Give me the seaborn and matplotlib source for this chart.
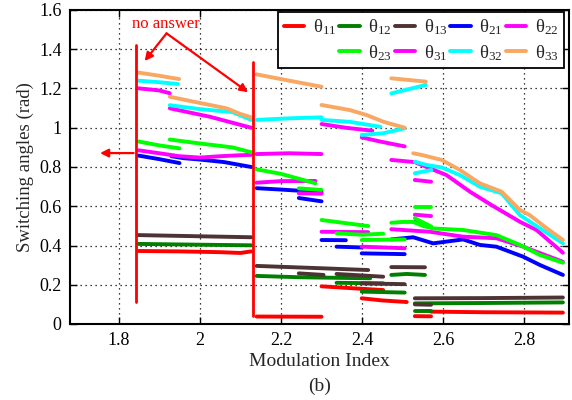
import numpy as np
import pandas as pd
import matplotlib
matplotlib.use("Agg")
import matplotlib.pyplot as plt
import seaborn as sns
from matplotlib.lines import Line2D

# ---------------- data (None separates branches) ----------------
th11_x = [1.849, 1.95, 2.05, 2.10, 2.127, None, 2.14, 2.30, None, 2.30, 2.37, 2.452, None,
          2.399, 2.45, 2.51, None, 2.53, 2.57, None, 2.57, 2.70, 2.80, 2.895]
th11_y = [0.372, 0.370, 0.366, 0.362, 0.370, None, 0.038, 0.037, None, 0.192, 0.183, 0.173, None,
          0.131, 0.120, 0.112, None, 0.040, 0.039, None, 0.063, 0.060, 0.059, 0.058]

th12_x = [1.849, 2.0, 2.127, None, 2.14, 2.25, 2.42, None, 2.337, 2.452, None, 2.399, 2.505, None,
          2.472, 2.51, 2.555, None, 2.53, 2.57, None, 2.53, 2.70, 2.895]
th12_y = [0.408, 0.404, 0.401, None, 0.245, 0.238, 0.233, None, 0.210, 0.207, None, 0.165, 0.160, None,
          0.250, 0.255, 0.250, None, 0.065, 0.065, None, 0.105, 0.107, 0.110]

th13_x = [1.849, 2.0, 2.127, None, 2.14, 2.22, 2.30, 2.415, None, 2.244, 2.305, None, 2.337, 2.452, None,
          2.399, 2.505, None, 2.472, 2.555, None, 2.53, 2.57, None, 2.53, 2.70, 2.895]
th13_y = [0.453, 0.447, 0.442, None, 0.296, 0.290, 0.284, 0.275, None, 0.258, 0.250, None, 0.255, 0.241, None,
          0.207, 0.203, None, 0.290, 0.289, None, 0.100, 0.098, None, 0.131, 0.132, 0.135]

th21_x = [1.849, 1.90, 1.95, None, 1.93, 1.96, 2.0, 2.06, 2.127, None, 2.14, 2.20, 2.30, None,
          2.244, 2.30, None, 2.30, 2.36, None, 2.337, 2.399, None, 2.399, 2.505, None,
          2.472, 2.526, 2.575, 2.649, 2.69, 2.731, 2.797, 2.838, 2.895, None, 2.53, 2.555]
th21_y = [0.858, 0.840, 0.820, None, 0.855, 0.845, 0.838, 0.825, 0.800, None, 0.692, 0.685, 0.672, None,
          0.642, 0.625, None, 0.428, 0.427, None, 0.394, 0.390, None, 0.360, 0.356, None,
          0.431, 0.442, 0.411, 0.431, 0.403, 0.394, 0.343, 0.301, 0.250, None, 0.520, 0.505]

th22_x = [1.849, 1.90, 1.95, 2.00, 2.05, 2.10, 2.127, None, 2.14, 2.20, 2.285, None, 2.244, 2.30, None,
          2.30, 2.415, None, 2.399, 2.505, None, 2.472, 2.567, 2.649, 2.731, 2.797, 2.895, None, 2.53, 2.57]
th22_y = [0.885, 0.870, 0.855, 0.848, 0.855, 0.860, 0.862, None, 0.720, 0.728, 0.729, None, 0.666, 0.664, None,
          0.470, 0.468, None, 0.394, 0.386, None, 0.483, 0.470, 0.445, 0.437, 0.394, 0.317, None, 0.557, 0.550]

th23_x = [1.849, 1.90, 1.95, None, 1.926, 2.0, 2.08, 2.127, None, 2.14, 2.20, 2.285, None, 2.244, 2.30, None,
          2.30, 2.415, None, 2.337, 2.40, 2.452, None, 2.399, 2.505, None,
          2.472, 2.50, 2.526, 2.55, 2.575, 2.649, 2.731, 2.789, 2.838, 2.895, None,
          2.53, 2.571, None, 2.53, 2.571]
th23_y = [0.930, 0.910, 0.895, None, 0.940, 0.920, 0.900, 0.875, None, 0.788, 0.765, 0.717, None, 0.691, 0.683, None,
          0.530, 0.499, None, 0.462, 0.455, 0.460, None, 0.428, 0.431, None,
          0.516, 0.520, 0.520, 0.500, 0.487, 0.479, 0.453, 0.403, 0.352, 0.312, None,
          0.595, 0.595, None, 0.539, 0.496]

th31_x = [1.849, 1.90, 1.926, None, 1.926, 2.025, 2.127, None, 2.14, 2.22, 2.30, None, 2.30, 2.36, 2.425, None,
          2.399, 2.444, 2.505, None, 2.472, 2.53, 2.559, 2.608, 2.666, 2.719, 2.789, 2.83, 2.895, None, 2.53, 2.57]
th31_y = [1.201, 1.190, 1.176, None, 1.099, 1.056, 1.000, None, 0.866, 0.870, 0.866, None, 1.019, 1.000, 0.985, None,
          0.951, 0.930, 0.905, None, 0.836, 0.825, 0.800, 0.759, 0.674, 0.606, 0.521, 0.479, 0.363, None, 0.734, 0.725]

th32_x = [1.849, 1.90, 1.946, None, 1.926, 2.0, 2.08, 2.127, None, 2.14, 2.22, 2.30, None, 2.30, 2.37, 2.445, None,
          2.399, 2.452, 2.505, None, 2.472, 2.557, None,
          2.53, 2.559, 2.596, 2.641, 2.69, 2.744, 2.789, 2.895, None, 2.53, 2.571]
th32_y = [1.240, 1.232, 1.223, None, 1.115, 1.095, 1.080, 1.040, None, 1.040, 1.048, 1.053, None, 1.040, 1.030, 1.005, None,
          0.963, 0.972, 0.997, None, 1.175, 1.218, None,
          0.827, 0.810, 0.798, 0.759, 0.700, 0.666, 0.555, 0.411, None, 0.768, 0.785]

th33_x = [1.849, 1.90, 1.949, None, 1.926, 1.984, 2.066, 2.10, 2.127, None, 2.14, 2.22, 2.30, None,
          2.30, 2.37, 2.411, 2.452, 2.505, None, 2.472, 2.557, None,
          2.526, 2.55, 2.596, 2.641, 2.69, 2.744, 2.789, 2.813, 2.855, 2.895]
th33_y = [1.281, 1.265, 1.248, None, 1.158, 1.133, 1.099, 1.070, 1.053, None, 1.272, 1.240, 1.209, None,
          1.116, 1.090, 1.065, 1.031, 1.000, None, 1.252, 1.235, None,
          0.870, 0.860, 0.836, 0.785, 0.717, 0.674, 0.581, 0.555, 0.488, 0.428]

series_names = ["θ11", "θ12", "θ13", "θ21", "θ22", "θ23", "θ31", "θ32", "θ33"]
series_x = [th11_x, th12_x, th13_x, th21_x, th22_x, th23_x, th31_x, th32_x, th33_x]
series_y = [th11_y, th12_y, th13_y, th21_y, th22_y, th23_y, th31_y, th32_y, th33_y]
series_labels = ["θ$_{11}$", "θ$_{12}$", "θ$_{13}$", "θ$_{21}$", "θ$_{22}$",
                 "θ$_{23}$", "θ$_{31}$", "θ$_{32}$", "θ$_{33}$"]
colors = ["#ff0000", "#007f00", "#4d3333", "#0000ff", "#ff00ff",
          "#00ff00", "#ff00ff", "#00ffff", "#f8a862"]

# ---------------- build long table ----------------
rows = []
for name, xs, ys in zip(series_names, series_x, series_y):
    seg = 0
    for xv, yv in zip(xs, ys):
        if xv is None:
            seg += 1
            continue
        rows.append({"series": name, "seg": f"{name}_{seg}", "x": xv, "y": yv})
df = pd.DataFrame(rows)

# ---------------- style ----------------
sns.set_style("ticks")
plt.rcParams["font.family"] = ["Liberation Serif", "DejaVu Serif"]
plt.rcParams["mathtext.fontset"] = "custom"
plt.rcParams["mathtext.rm"] = "Liberation Serif"
plt.rcParams["mathtext.it"] = "Liberation Serif:italic"

fig = plt.figure(figsize=(5.72, 4.0), dpi=100)
ax = fig.add_axes([70 / 572, 76 / 400, 499 / 572, 314 / 400])

palette = dict(zip(series_names, colors))
sns.lineplot(data=df, x="x", y="y", hue="series", units="seg", estimator=None,
             sort=False, palette=palette, linewidth=2.8, legend=False, ax=ax)

ax.set_xlim(1.68, 2.91)
ax.set_ylim(0, 1.6)
ax.set_xticks([1.8, 2.0, 2.2, 2.4, 2.6, 2.8])
ax.set_xticklabels(["1.8", "2", "2.2", "2.4", "2.6", "2.8"])
ax.set_yticks([0, 0.2, 0.4, 0.6, 0.8, 1.0, 1.2, 1.4, 1.6])
ax.set_yticklabels(["0", "0.2", "0.4", "0.6", "0.8", "1", "1.2", "1.4", "1.6"])
ax.grid(True, color="black", linestyle=(0, (1, 3)), linewidth=0.9)
ax.tick_params(direction="in", length=5, width=1, top=True, right=True,
               labelsize=13, colors="black", pad=6)
for sp in ax.spines.values():
    sp.set_visible(True)
    sp.set_linewidth(1.5)
    sp.set_color("black")

ax.set_xlabel("Modulation Index", fontsize=14, labelpad=3)
ax.set_ylabel("Switching angles (rad)", fontsize=13.5, labelpad=4)
fig.text(0.558, 0.033, "(b)", ha="center", va="center", fontsize=14)

# ---------------- annotations ----------------
ax.plot([1.842, 1.842], [0.11, 1.42], color="red", lw=2)
ax.plot([2.131, 2.131], [0.04, 1.335], color="red", lw=2)
ax.text(1.916, 1.53, "no answer", color="red", fontsize=12, ha="center", va="center")
arrow = dict(arrowstyle="-|>", color="red", lw=1.6, mutation_scale=12, shrinkA=0, shrinkB=0)
ax.annotate("", xy=(1.864, 1.34), xytext=(1.918, 1.481), arrowprops=arrow)
ax.annotate("", xy=(2.119, 1.181), xytext=(1.918, 1.481), arrowprops=arrow)
ax.annotate("", xy=(1.754, 0.871), xytext=(1.837, 0.871), arrowprops=arrow)

# ---------------- legend ----------------
handles = [Line2D([], [], color=c, lw=2.8) for c in colors]
blank = Line2D([], [], color="none", lw=0)
order = [(handles[0], series_labels[0]), (blank, ""),
         (handles[1], series_labels[1]), (handles[5], series_labels[5]),
         (handles[2], series_labels[2]), (handles[6], series_labels[6]),
         (handles[3], series_labels[3]), (handles[7], series_labels[7]),
         (handles[4], series_labels[4]), (handles[8], series_labels[8])]
leg = ax.legend([h for h, _ in order], [l for _, l in order], ncol=5,
                loc="upper right", bbox_to_anchor=(0.99, 0.994), borderaxespad=0,
                fontsize=13.5, handlelength=1.1, handletextpad=0.45,
                columnspacing=0.15, labelspacing=0.3, borderpad=0.3,
                frameon=True, fancybox=False, framealpha=1, edgecolor="black")
leg.get_frame().set_linewidth(1.3)

fig.savefig("out.png", dpi=100)
